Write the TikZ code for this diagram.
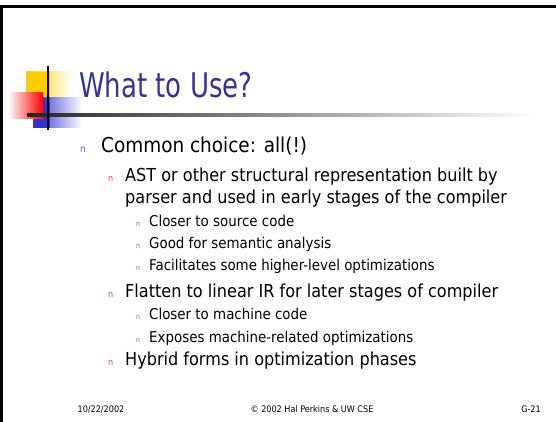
\documentclass[tikz,border=0pt]{standalone}
\usepackage{fontspec}
\setmainfont{DejaVu Sans Condensed}
\newfontfamily\titlefont[FakeStretch=0.85]{DejaVu Sans Condensed}
\usetikzlibrary{fadings}
\definecolor{titleblue}{HTML}{333399}
\definecolor{sqyellow}{HTML}{FFCC00}
\definecolor{sqred}{HTML}{FF0000}
\definecolor{sqblue}{HTML}{3333CC}
\definecolor{bulblue}{HTML}{6666CC}
\definecolor{bulred}{HTML}{FF3333}
\tikzset{
  txt/.style={anchor=base west, inner sep=0pt},
  lone/.style={txt, font=\fontsize{20.5}{25}\selectfont},
  ltwo/.style={txt, font=\fontsize{17.9}{21}\selectfont},
  lthree/.style={txt, font=\fontsize{14.9}{18}\selectfont},
  bone/.style={txt, text=bulblue, font=\fontsize{10}{12}\selectfont},
  btwo/.style={txt, text=bulred, font=\fontsize{9}{11}\selectfont},
  bthree/.style={txt, text=bulblue, font=\fontsize{7}{9}\selectfont},
  foot/.style={anchor=base, inner sep=0pt, font=\fontsize{9}{11}\selectfont},
}
\begin{document}
\begin{tikzpicture}[x=1pt,y=-1pt]
\useasboundingbox (0,0) rectangle (556,422);
% frame
\fill[black] (0,5) rectangle (556,8);
\fill[black] (0,5) rectangle (3,422);
% decoration
\shade[left color=sqyellow, right color=white] (26,72) rectangle (72,100);
\fill[sqyellow] (26,72) rectangle (50,100);
\shade[left color=sqblue, right color=white] (33,98) rectangle (82,128);
\fill[sqblue] (33,98) rectangle (50,128);
\shade[left color=white, right color=sqred] (8,93) rectangle (43,119);
\shade[left color=black!85, right color=white] (27,113.5) rectangle (535,116.5);
\fill[black!85] (27,113.5) rectangle (50,116.5);
\fill[black] (47,66) rectangle (49,130);
% title
\node[txt, text=titleblue, font=\titlefont\fontsize{34}{40}\selectfont] (title) at (79,98) {What to Use?};
% bullets
\node[bone] (b1) at (80,153) {n};
\node[lone] (t1) at (101,153) {Common choice: all(!)};
\node[btwo] (b2) at (108,181) {n};
\node[ltwo] (t2) at (125,181) {AST or other structural representation built by};
\node[ltwo] (t2b) at (125,203) {parser and used in early stages of the compiler};
\node[bthree] (b3) at (136,226) {n};
\node[lthree] (t3) at (149,226) {Closer to source code};
\node[bthree] (b4) at (136,248) {n};
\node[lthree] (t4) at (149,248) {Good for semantic analysis};
\node[bthree] (b5) at (136,270) {n};
\node[lthree] (t5) at (149,270) {Facilitates some higher-level optimizations};
\node[btwo] (b6) at (108,297) {n};
\node[ltwo] (t6) at (125,297) {Flatten to linear IR for later stages of compiler};
\node[bthree] (b7) at (136,319) {n};
\node[lthree] (t7) at (149,319) {Closer to machine code};
\node[bthree] (b8) at (136,342) {n};
\node[lthree] (t8) at (149,342) {Exposes machine-related optimizations};
\node[btwo] (b9) at (108,365) {n};
\node[ltwo] (t9) at (125,365) {Hybrid forms in optimization phases};
% footer
\node[foot] (f1) at (101,412) {10/22/2002};
\node[foot] (f2) at (312,412) {© 2002 Hal Perkins \& UW CSE};
\node[foot] (f3) at (531,412) {G-21};
\end{tikzpicture}
\end{document}
